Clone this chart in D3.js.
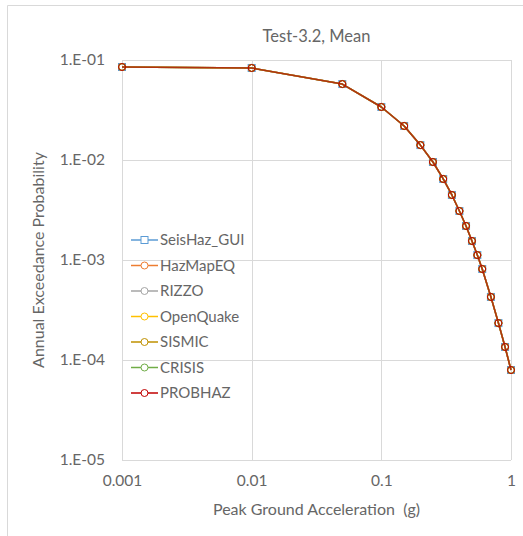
<!DOCTYPE html>
<html>
<head>
<meta charset="utf-8">
<script src="https://cdn.jsdelivr.net/npm/d3@7"></script>
<style>
  html, body { margin: 0; padding: 0; background: #fff; }
  svg { display: block; }
  text { font-family: Lato, "Open Sans", "DejaVu Sans", sans-serif; fill: #666; }
</style>
</head>
<body>
<svg id="chart" width="523" height="536"></svg>
<script>
// Peak ground acceleration levels (g)
const pga = [0.001, 0.01, 0.05, 0.1, 0.15, 0.2, 0.25, 0.3, 0.35, 0.4, 0.45, 0.5, 0.55, 0.6, 0.7, 0.8, 0.9, 1.0];

// Mean annual exceedance probability for Test-3.2 (all codes agree at plot scale)
const meanAEP = [0.0851, 0.0832, 0.0575, 0.0339, 0.0219, 0.0141, 0.00955, 0.00646, 0.00447, 0.00309,
                 0.00219, 0.00155, 0.00112, 0.000813, 0.000427, 0.000234, 0.000135, 0.0000794];

// Hazard codes compared
const seriesNames  = ["SeisHaz_GUI", "HazMapEQ", "RIZZO", "OpenQuake", "SISMIC", "CRISIS", "PROBHAZ"];
const seriesColors = ["#5B9BD5", "#ED7D31", "#A5A5A5", "#FFC000", "#BF9000", "#70AD47", "#C00000"];
const seriesMarker = ["square", "circle", "circle", "circle", "circle", "circle", "circle"];
const seriesAEP    = [meanAEP, meanAEP, meanAEP, meanAEP, meanAEP, meanAEP, meanAEP];

// Axis ticks
const xTicks = [0.001, 0.01, 0.1, 1];
const xTickLabels = ["0.001", "0.01", "0.1", "1"];
const yTicks = [1e-1, 1e-2, 1e-3, 1e-4, 1e-5];
const yTickLabels = ["1.E-01", "1.E-02", "1.E-03", "1.E-04", "1.E-05"];

const svg = d3.select("#chart");
const plot = { left: 122, right: 511, top: 60, bottom: 460 };

const x = d3.scaleLog().domain([0.001, 1]).range([plot.left, plot.right]);
const y = d3.scaleLog().domain([1e-5, 1e-1]).range([plot.bottom, plot.top]);

// Chart area frame (left and top edges)
svg.append("line").attr("x1", 7.5).attr("x2", 7.5).attr("y1", 5.5).attr("y2", 536)
  .attr("stroke", "#d9d9d9");
svg.append("line").attr("x1", 7.5).attr("x2", 523).attr("y1", 5.5).attr("y2", 5.5)
  .attr("stroke", "#d9d9d9");

// Gridlines
const grid = svg.append("g").attr("stroke", "#d9d9d9").attr("stroke-width", 1);
xTicks.forEach(v => {
  const px = Math.round(x(v)) + 0.5;
  grid.append("line").attr("x1", px).attr("x2", px).attr("y1", plot.top).attr("y2", plot.bottom);
});
yTicks.forEach(v => {
  const py = Math.round(y(v)) + 0.5;
  grid.append("line").attr("x1", plot.left).attr("x2", plot.right).attr("y1", py).attr("y2", py);
});

// Axes (labels only)
const xAxis = d3.axisBottom(x).tickValues(xTicks)
  .tickFormat((d, i) => xTickLabels[i]).tickSize(0).tickPadding(15);
const gx = svg.append("g").attr("transform", `translate(0,${plot.bottom})`).call(xAxis);
gx.select(".domain").remove();
gx.selectAll("text").attr("font-size", 15.5).style("font-family", null);

const yAxis = d3.axisLeft(y).tickValues(yTicks)
  .tickFormat((d, i) => yTickLabels[i]).tickSize(0).tickPadding(17);
const gy = svg.append("g").attr("transform", `translate(${plot.left},0)`).call(yAxis);
gy.select(".domain").remove();
gy.selectAll("text").attr("font-size", 15.5).style("font-family", null);

// Series
const line = d3.line().x((d, i) => x(pga[i])).y(d => y(d));
seriesNames.forEach((name, s) => {
  const g = svg.append("g");
  g.append("path").datum(seriesAEP[s])
    .attr("d", line).attr("fill", "none")
    .attr("stroke", seriesColors[s]).attr("stroke-width", 1.5)
    .attr("stroke-opacity", 0.7).attr("stroke-linejoin", "round");
  const pts = g.selectAll(".pt").data(seriesAEP[s]).enter();
  if (seriesMarker[s] === "square") {
    pts.append("rect")
      .attr("x", (d, i) => x(pga[i]) - 3.5).attr("y", d => y(d) - 3.5)
      .attr("width", 7).attr("height", 7)
      .attr("fill", "none").attr("stroke", seriesColors[s]).attr("stroke-width", 1);
  } else {
    pts.append("circle")
      .attr("cx", (d, i) => x(pga[i])).attr("cy", d => y(d)).attr("r", 3.5)
      .attr("fill", "none").attr("stroke", seriesColors[s]).attr("stroke-width", 1);
  }
});

// Legend
const legend = svg.append("g");
const legX0 = 131, legX1 = 158, legTop = 240, legStep = 25.5;
seriesNames.forEach((name, s) => {
  const ly = legTop + s * legStep;
  legend.append("line").attr("x1", legX0).attr("x2", legX1).attr("y1", ly).attr("y2", ly)
    .attr("stroke", seriesColors[s]).attr("stroke-width", 1.5);
  const mx = (legX0 + legX1) / 2;
  if (seriesMarker[s] === "square") {
    legend.append("rect").attr("x", mx - 3.5).attr("y", ly - 3.5).attr("width", 7).attr("height", 7)
      .attr("fill", "#fff").attr("stroke", seriesColors[s]);
  } else {
    legend.append("circle").attr("cx", mx).attr("cy", ly).attr("r", 3.5)
      .attr("fill", "#fff").attr("stroke", seriesColors[s]);
  }
  legend.append("text").attr("x", legX1 + 2).attr("y", ly).attr("dy", "0.35em")
    .attr("font-size", 15).text(name);
});

// Titles
svg.append("text").attr("x", (plot.left + plot.right) / 2).attr("y", 36).attr("dy", "0.35em")
  .attr("text-anchor", "middle").attr("font-size", 16.5).text("Test-3.2, Mean");
svg.append("text").attr("x", (plot.left + plot.right) / 2).attr("y", 509).attr("dy", "0.35em")
  .attr("text-anchor", "middle").attr("font-size", 16).style("white-space", "pre")
  .text("Peak Ground Acceleration  (g)");
svg.append("text").attr("transform", `translate(38,${(plot.top + plot.bottom) / 2}) rotate(-90)`)
  .attr("dy", "0.35em").attr("text-anchor", "middle").attr("font-size", 16)
  .text("Annual Exceedance Probability");
</script>
</body>
</html>
